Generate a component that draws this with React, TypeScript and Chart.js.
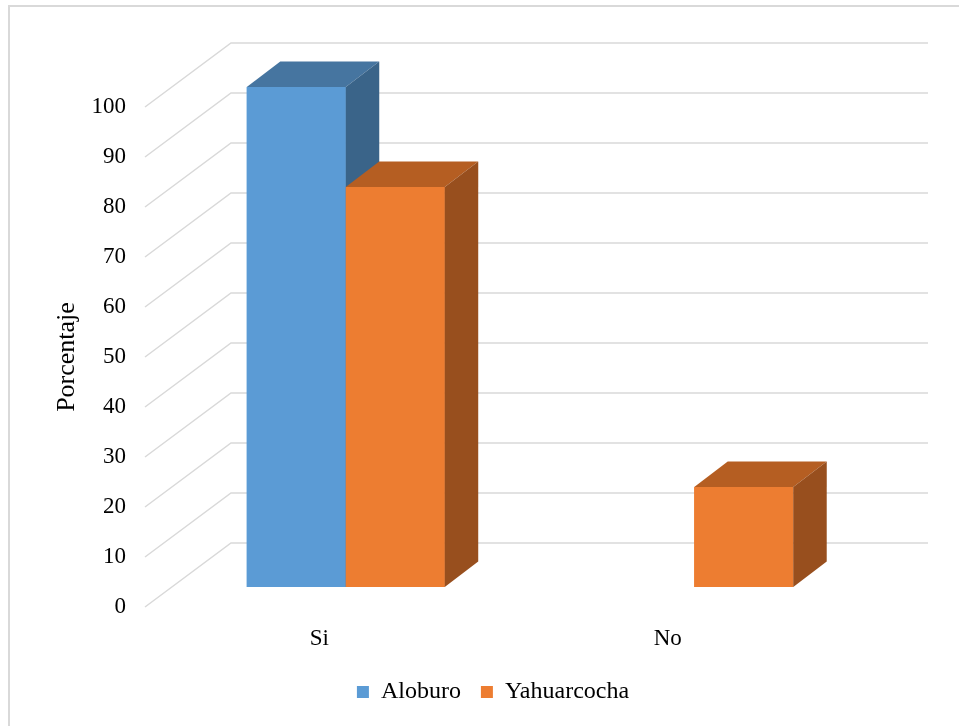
import React, { useEffect, useRef } from "react";
import { Chart, registerables } from "chart.js";

Chart.register(...registerables);

const categories = ["Si", "No"];
const aloburo = [100, 0];
const yahuarcocha = [80, 20];
const seriesNames = ["Aloburo", "Yahuarcocha"];
const yTicksMin = 0;
const yTicksMax = 100;
const yTickStep = 10;

const FONT = "'Liberation Serif', 'Times New Roman', serif";
const GRID = "#d9d9d9";
const FRONT = ["#5b9bd5", "#ed7d31"];
const TOP = ["#4675a0", "#b55e22"];
const SIDE = ["#3a6489", "#984f1e"];

// 3D geometry (pixels)
const WALL_DX = 86;
const WALL_DY = 64;
const BAR_SHIFT_X = 26.5;
const BAR_SHIFT_Y = 20;
const BAR_DX = 33.5;
const BAR_DY = 25.5;

const depthPlugin = {
  id: "depth3d",
  beforeDraw(chart: any) {
    const ctx = chart.ctx;
    ctx.save();
    ctx.fillStyle = GRID;
    ctx.fillRect(0, 0, 2, chart.height);
    ctx.fillRect(0, 0, chart.width, 2);
    ctx.restore();
  },
  beforeDatasetsDraw(chart: any) {
    const ctx = chart.ctx;
    const ys = chart.scales.y;
    const { left, right } = chart.chartArea;
    ctx.save();
    ctx.strokeStyle = GRID;
    ctx.lineWidth = 1.5;
    ys.ticks.forEach((t: any) => {
      const py = ys.getPixelForValue(t.value);
      ctx.beginPath();
      ctx.moveTo(left, py);
      ctx.lineTo(left + WALL_DX, py - WALL_DY);
      ctx.lineTo(right + WALL_DX, py - WALL_DY);
      ctx.stroke();
    });
    ctx.restore();
    ctx.save();
    ctx.translate(BAR_SHIFT_X, -BAR_SHIFT_Y);
  },
  afterDatasetsDraw(chart: any) {
    const ctx = chart.ctx;
    chart.data.datasets.forEach((ds: any, i: number) => {
      const meta = chart.getDatasetMeta(i);
      meta.data.forEach((bar: any, j: number) => {
        if (!ds.data[j]) return;
        const { x, y, base, width } = bar.getProps(["x", "y", "base", "width"], true);
        const l = x - width / 2;
        const r = x + width / 2;
        ctx.fillStyle = FRONT[i];
        ctx.fillRect(l, y, width, base - y);
        ctx.fillStyle = TOP[i];
        ctx.beginPath();
        ctx.moveTo(l, y);
        ctx.lineTo(l + BAR_DX, y - BAR_DY);
        ctx.lineTo(r + BAR_DX, y - BAR_DY);
        ctx.lineTo(r, y);
        ctx.closePath();
        ctx.fill();
        ctx.fillStyle = SIDE[i];
        ctx.beginPath();
        ctx.moveTo(r, y);
        ctx.lineTo(r + BAR_DX, y - BAR_DY);
        ctx.lineTo(r + BAR_DX, base - BAR_DY);
        ctx.lineTo(r, base);
        ctx.closePath();
        ctx.fill();
      });
    });
    ctx.restore();
  },
};

export default function App() {
  const ref = useRef<HTMLCanvasElement | null>(null);
  useEffect(() => {
    if (!ref.current) return;
    const chart = new Chart(ref.current, {
      type: "bar",
      data: {
        labels: categories,
        datasets: [
          {
            label: seriesNames[0],
            data: aloburo,
            backgroundColor: FRONT[0],
            borderWidth: 0,
            categoryPercentage: 0.568,
            barPercentage: 1,
            clip: false as any,
          },
          {
            label: seriesNames[1],
            data: yahuarcocha,
            backgroundColor: FRONT[1],
            borderWidth: 0,
            categoryPercentage: 0.568,
            barPercentage: 1,
            clip: false as any,
          },
        ],
      },
      options: {
        animation: false,
        responsive: false,
        maintainAspectRatio: false,
        layout: { padding: { left: 27, right: 8, top: 102, bottom: 12 } },
        plugins: {
          tooltip: { enabled: false },
          legend: {
            position: "bottom",
            labels: {
              font: { family: FONT, size: 24 },
              color: "#000",
              boxWidth: 12,
              boxHeight: 12,
              padding: 20,
            },
          },
        },
        scales: {
          x: {
            grid: { display: false },
            border: { display: false },
            ticks: { font: { family: FONT, size: 23 }, color: "#000", padding: 10 },
            afterFit: (s: any) => {
              s.height = 53;
            },
          },
          y: {
            min: yTicksMin,
            max: yTicksMax,
            grid: { display: false },
            border: { display: false },
            ticks: { stepSize: yTickStep, font: { family: FONT, size: 23 }, color: "#000", padding: 11 },
            title: {
              display: true,
              text: "Porcentaje",
              font: { family: FONT, size: 26 },
              color: "#000",
              padding: { top: 17, bottom: 0 },
            },
            afterFit: (s: any) => {
              s.width = 110;
            },
          },
          y2: {
            position: "right",
            display: true,
            grid: { display: false },
            border: { display: false },
            ticks: { display: false },
            afterFit: (s: any) => {
              s.width = 109;
            },
          },
        },
      },
      plugins: [depthPlugin],
    });
    return () => chart.destroy();
  }, []);
  return (
    <div style={{ position: "absolute", left: 8, top: 5, width: 951, height: 721 }}>
      <canvas ref={ref} width={951} height={721} style={{ display: "block" }} />
    </div>
  );
}
